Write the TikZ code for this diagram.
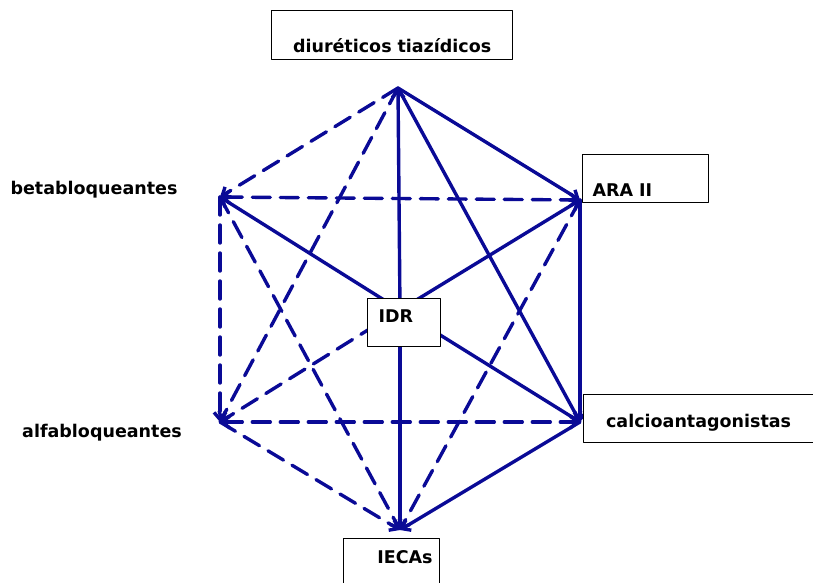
\documentclass[tikz,border=0pt]{standalone}
\usepackage{fontspec}
\setmainfont{DejaVu Sans}
\usepackage{xcolor}
\definecolor{drblue}{HTML}{0A0A96}
\usetikzlibrary{arrows.meta,positioning}
\tikzset{
  >={Straight Barb[length=7pt,width=12pt]},
  every picture/.style={line cap=round, line join=round},
  lbl/.style={font=\bfseries\fontsize{17.5}{20}\selectfont, text=black},
  box/.style={lbl, draw=black, line width=1.2pt, fill=white, inner sep=0pt},
  link/.style={drblue, line width=3.4pt},
  linkdash/.style={drblue, line width=3.4pt, dash pattern=on 18pt off 10pt},
}

\begin{document}
\begin{tikzpicture}[x=1pt, y=-1pt]
\useasboundingbox (0,0) rectangle (813,582);
% hexagon corners
\coordinate (top) at (398,88);
\coordinate (ara) at (580,200);
\coordinate (calc) at (580,422);
\coordinate (bot) at (400,530);
\coordinate (alfa) at (220,422);
\coordinate (beta) at (220,197);
\coordinate (mid) at (400,310);
% dashed links
\draw[linkdash, ->] (top) -- (beta);
\draw[linkdash, ->] (top) -- (alfa);
\draw[linkdash, <->] (beta) -- (ara);
\draw[linkdash, ->] (beta) -- (alfa);
\draw[linkdash, ->] (beta) -- (bot);
\draw[linkdash, <->] (alfa) -- (calc);
\draw[linkdash, ->] (alfa) -- (bot);
\draw[linkdash, ->] (ara) -- (bot);
\draw[linkdash, ->] (mid) -- (alfa);
% solid links
\draw[link, ->] (top) -- (ara);
\draw[link, ->] (top) -- (calc);
\draw[link, ->] (ara) -- (calc);
\draw[link, ->] (calc) -- (bot);
\draw[link, ->] (mid) -- (top);
\draw[link, ->] (mid) -- (bot);
\draw[link, ->] (mid) -- (beta);
\draw[link, ->] (mid) -- (ara);
\draw[link, ->] (mid) -- (calc);
% labels
\node[box, anchor=north west, text width=241pt, align=center, text height=42pt, text depth=7pt]
  (diur) at (271,10) {diuréticos tiazídicos};
\node[box, anchor=north west, text width=106pt, inner xsep=10pt, align=left, text height=42pt, text depth=6pt]
  (arab) at (582,154) {ARA II};
\node[box, anchor=north west, text width=51pt, inner xsep=11pt, align=left, text height=24pt, text depth=24pt]
  (idr) at (367,298) {IDR};
\node[box, anchor=north west, text width=230pt, align=center, text height=33pt, text depth=15pt]
  (calcb) at (583,394) {calcioantagonistas};
\node[box, anchor=north west, text width=82pt, inner xsep=7pt, align=right, text height=25pt, text depth=27pt]
  (ieca) at (343,538) {IECAs};
\node[lbl] (betab) at (94,190) {betabloqueantes};
\node[lbl] (alfab) at (102,433) {alfabloqueantes};
\end{tikzpicture}
\end{document}
